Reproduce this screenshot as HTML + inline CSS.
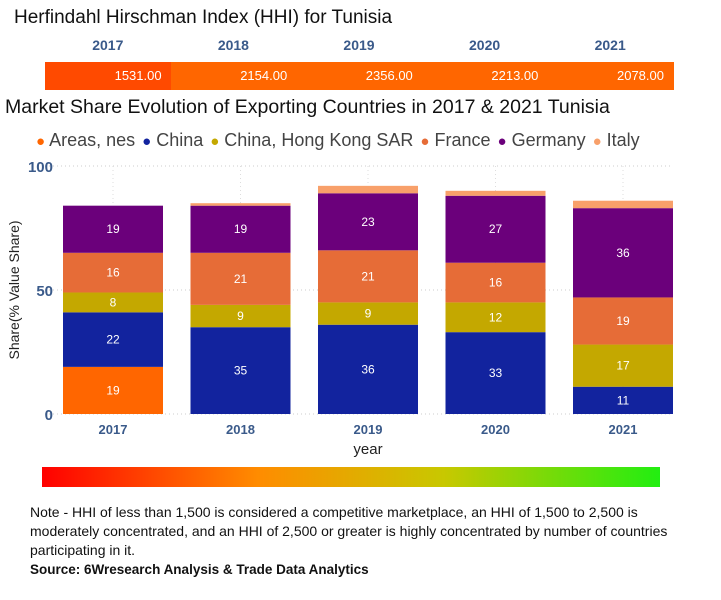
<!DOCTYPE html>
<html><head><meta charset="utf-8"><style>
body{margin:0;width:721px;height:600px;background:#fff;font-family:"Liberation Sans",sans-serif;position:relative;overflow:hidden}
.a{position:absolute}
</style></head><body>
<div class="a" style="left:14px;top:7px;font-size:19px;color:#111">Herfindahl Hirschman Index (HHI) for Tunisia</div>
<div id="hhi"></div>
<div class="a" style="left:5px;top:96px;font-size:19.5px;color:#111">Market Share Evolution of Exporting Countries in 2017 &amp; 2021 Tunisia</div>
<div class="a" id="legend" style="left:36px;top:130px;font-size:18px;color:#444;white-space:nowrap"></div>
<svg class="a" id="chart" style="left:0;top:150px" width="721" height="310"></svg>
<div class="a" style="left:42px;top:467px;width:618px;height:20px;background:linear-gradient(to right,#ff0000,#ff8c00 35%,#c8c800 65%,#22ee11)"></div>
<div class="a" style="left:30px;top:503px;width:662px;font-size:14px;line-height:19px;color:#111">Note - HHI of less than 1,500 is considered a competitive marketplace, an HHI of 1,500 to 2,500 is moderately concentrated, and an HHI of 2,500 or greater is highly concentrated by number of countries participating in it.<br><b style="font-size:13.5px">Source: 6Wresearch Analysis &amp; Trade Data Analytics</b></div>
<script>
const years=["2017","2018","2019","2020","2021"];
const hhiValues=[1531,2154,2356,2213,2078];
const seriesNames=["Areas, nes","China","China, Hong Kong SAR","France","Germany","Italy"];
const seriesColors=["#ff6600","#12239e","#c4a800","#e66c37","#6b007b","#f8a06a"];
const areasNes=[19,0,0,0,0];
const china=[22,35,36,33,11];
const hongKong=[8,9,9,12,17];
const france=[16,21,21,16,19];
const germany=[19,19,23,27,36];
const italy=[0,1,3,2,3];
const yTicks=[0,50,100];
const series=[areasNes,china,hongKong,france,germany,italy];

const hhi=document.getElementById('hhi');
const sx0=45,sw=628/years.length;
years.forEach((y,i)=>{
  const l=document.createElement('div');l.className='a';
  
  
  l.style.cssText=`left:${sx0+i*sw}px;top:37px;width:${sw}px;text-align:center;font-size:14px;font-weight:bold;color:#3a5a8a`;
  l.textContent=y;hhi.appendChild(l);
  const c=document.createElement('div');c.className='a';
  
  
  c.style.cssText=`left:${sx0+i*sw}px;top:62px;width:${sw+1}px;height:28px;background:${hhiValues[i]<1800?'#ff4a00':'#ff6600'};color:#fff;font-size:13px;text-align:right;line-height:28px;box-sizing:border-box;padding-right:10px`;
  c.textContent=hhiValues[i].toFixed(2);hhi.appendChild(c);
});

const lg=document.getElementById('legend');
seriesNames.forEach((n,i)=>{
  const s=document.createElement('span');
  
  
  s.style.marginRight='7px';
  s.innerHTML=`<span style="color:${seriesColors[i]};font-size:15px">●</span> ${n}`;
  lg.appendChild(s);
});

const svg=document.getElementById('chart');const NS='http://www.w3.org/2000/svg';
const y0=264,ppu=2.48,bw=100,bx0=63,step=127.5;
const yS=v=>y0-v*ppu;const xS=i=>bx0+i*step;
function mk(t,a,p){const e=document.createElementNS(NS,t);for(const k in a)e.setAttribute(k,a[k]);(p||svg).appendChild(e);return e;}
yTicks.forEach(t=>{
  const g=mk('line',{x1:45,x2:673,y1:yS(t),y2:yS(t),stroke:'#ccc','stroke-dasharray':'1,3'});
  
  
  const l=mk('text',{x:53,y:yS(t)+6,'text-anchor':'end','font-size':15,'font-weight':'bold',fill:'#3a5a8a'});
  
  
  l.textContent=t;
});
years.forEach((y,i)=>{
  const v=mk('line',{x1:xS(i)+bw/2,x2:xS(i)+bw/2,y1:yS(100),y2:y0,stroke:'#ddd','stroke-dasharray':'1,3'});
  
  
  let cum=0;
  series.forEach((s,k)=>{
    const val=s[i];if(!val)return;
    const r=mk('rect',{x:xS(i),y:yS(cum+val),width:bw,height:val*ppu,fill:seriesColors[k]});
    
    
    if(k<5){const t=mk('text',{x:xS(i)+bw/2,y:yS(cum+val/2)+4,'text-anchor':'middle','font-size':12,fill:'#fff'});
      
      
      t.textContent=val;}
    cum+=val;
  });
  const xl=mk('text',{x:xS(i)+bw/2,y:y0+20,'text-anchor':'middle','font-size':13,'font-weight':'bold',fill:'#3a5a8a'});
  
  
  xl.textContent=y;
});
const xt=mk('text',{x:368,y:304,'text-anchor':'middle','font-size':15,fill:'#222'});


xt.textContent='year';
const yt=mk('text',{x:0,y:0,'text-anchor':'middle','font-size':14,fill:'#222',transform:'translate(19,140) rotate(-90)'});


yt.textContent='Share(% Value Share)';
</script>
</body></html>
